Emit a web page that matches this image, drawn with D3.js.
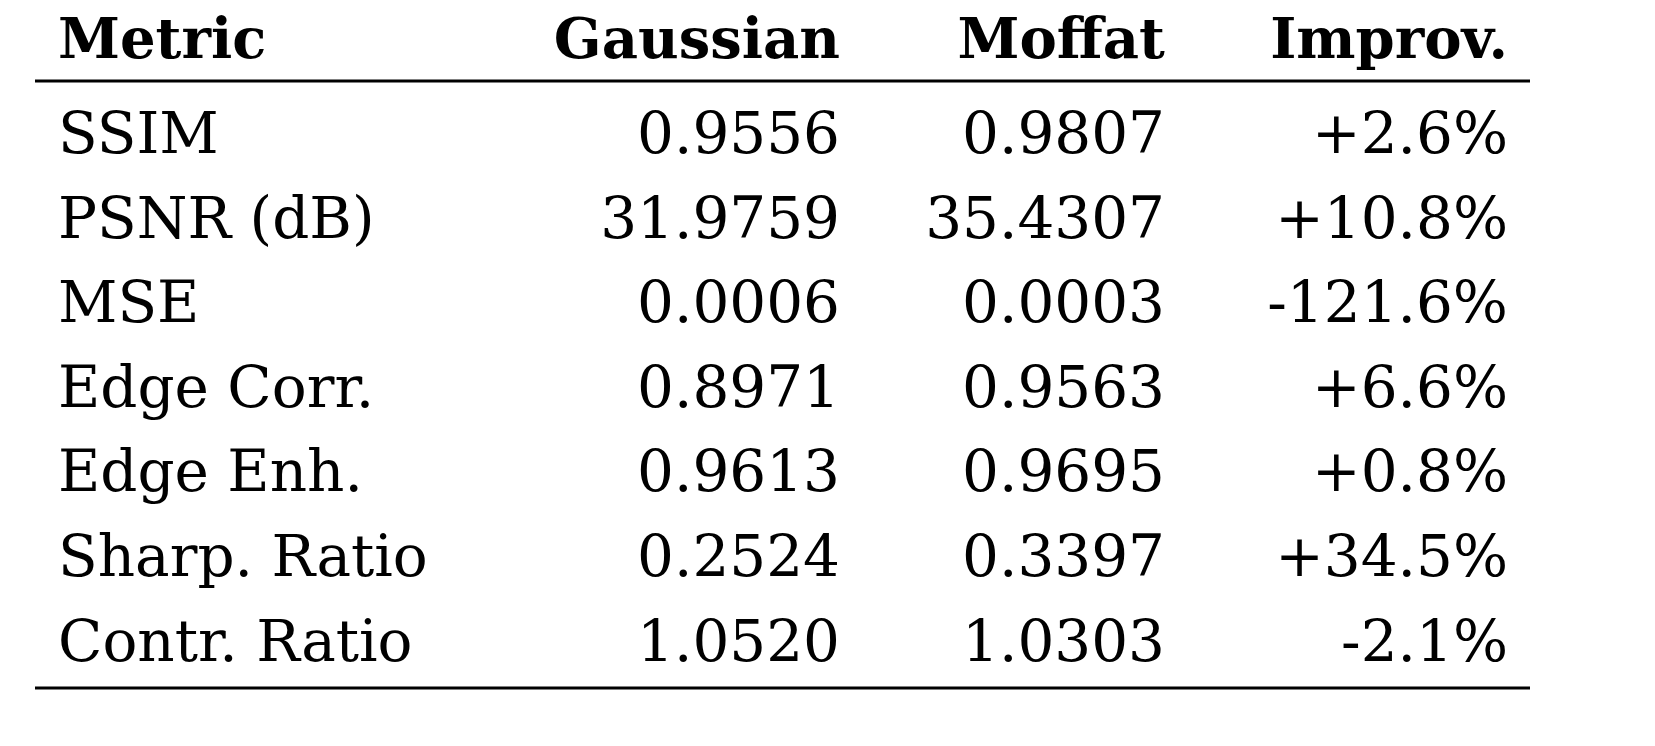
<!DOCTYPE html>
<html><head><meta charset="utf-8">
<script src="https://cdn.jsdelivr.net/npm/d3@7"></script>
<style>body{margin:0;background:#fff}</style></head>
<body><svg id="c" width="1655" height="746"></svg>
<script>
const headers = ["Metric","Gaussian","Moffat","Improv."];
const metrics = ["SSIM","PSNR (dB)","MSE","Edge Corr.","Edge Enh.","Sharp. Ratio","Contr. Ratio"];
const gaussian = ["0.9556","31.9759","0.0006","0.8971","0.9613","0.2524","1.0520"];
const moffat = ["0.9807","35.4307","0.0003","0.9563","0.9695","0.3397","1.0303"];
const improv = ["+2.6%","+10.8%","-121.6%","+6.6%","+0.8%","+34.5%","-2.1%"];

const svg = d3.select("#c");
const font = "'DejaVu Serif', serif";
const y = d3.scaleBand().domain(d3.range(metrics.length)).range([88, 680]);
const colX = [58, 840, 1165, 1508];
const anchors = ["start","end","end","end"];

svg.append("line").attr("x1",35).attr("x2",1530).attr("y1",81).attr("y2",81).attr("stroke","#000").attr("stroke-width",3);
svg.append("line").attr("x1",35).attr("x2",1530).attr("y1",688).attr("y2",688).attr("stroke","#000").attr("stroke-width",3);

svg.selectAll("text.h").data(headers).join("text").attr("class","h")
  .attr("x",(d,i)=>colX[i]).attr("y",58).attr("text-anchor",(d,i)=>anchors[i])
  .attr("font-family",font).attr("font-weight","bold").attr("font-size",56).text(d=>d);

const cols = [metrics, gaussian, moffat, improv];
cols.forEach((col,ci)=>{
  svg.selectAll("text.c"+ci).data(col).join("text").attr("class","c"+ci)
    .attr("x",colX[ci]).attr("y",(d,i)=>y(i)+y.bandwidth()*0.77)
    .attr("text-anchor",anchors[ci]).attr("font-family",font).attr("font-size",58).text(d=>d);
});
</script></body></html>
